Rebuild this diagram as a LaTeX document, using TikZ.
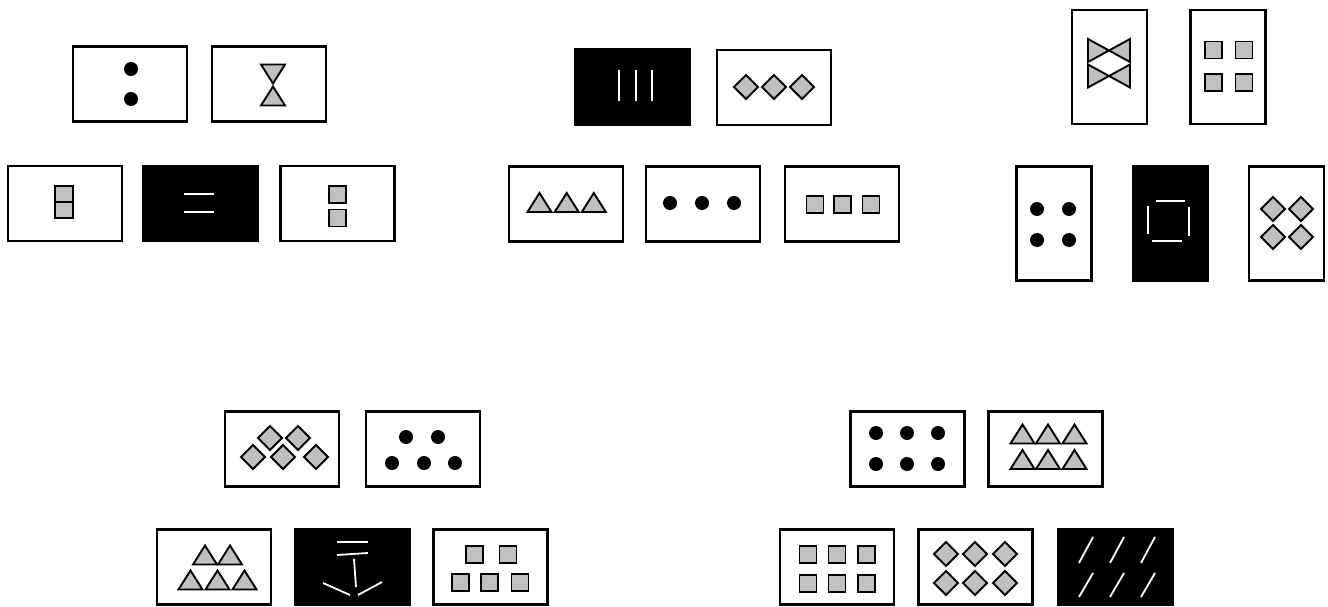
\documentclass[tikz,border=0pt]{standalone}
\definecolor{tilegray}{RGB}{192, 192, 192}
\usepackage{tikz}
\usepackage{xcolor}
\usetikzlibrary{positioning}

\tikzset{
  card/.style={draw=black, line width=2.2pt, fill=white, inner sep=0pt,
               minimum width=114pt, minimum height=75pt},
  darkcard/.style={card, fill=black},
  tallcard/.style={card, minimum width=75pt, minimum height=114pt},
  darktallcard/.style={tallcard, fill=black},
  piece/.style={draw=black, line width=1.9pt, fill=tilegray},
  whitestroke/.style={draw=white, line width=1.8pt},
}

% gray pieces, given by their centre
\newcommand{\piecesq}[2]{\draw[piece] (#1-8.5,#2-8.5) rectangle (#1+8.5,#2+8.5);}
\newcommand{\piecedia}[2]{\draw[piece] (#1,#2-12) -- (#1+12,#2) -- (#1,#2+12) -- (#1-12,#2) -- cycle;}
\newcommand{\pieceup}[2]{\draw[piece] (#1-12,#2+9.5) -- (#1+12,#2+9.5) -- (#1,#2-9.5) -- cycle;}
\newcommand{\piecedown}[2]{\draw[piece] (#1-12,#2-9.5) -- (#1+12,#2-9.5) -- (#1,#2+9.5) -- cycle;}
\newcommand{\piecebow}[2]{%
  \draw[piece] (#1-21,#2-11.5) -- (#1-21,#2+11.5) -- (#1,#2) -- cycle;
  \draw[piece] (#1+21,#2-11.5) -- (#1+21,#2+11.5) -- (#1,#2) -- cycle;}
\newcommand{\piecedot}[2]{\fill[black] (#1,#2) circle (7);}

\begin{document}
\begin{tikzpicture}[x=1pt, y=-1pt]
  \useasboundingbox (0,0) rectangle (1328,607);

  % Group 1: pairs
  \node[card] (dotpair) at (130,84) {};
  \node[card] (hourglass) at (269,84) {};
  \node[card] (sqstack) at (65,203.5) {};
  \node[darkcard] (twolines) at (200.5,203.5) {};
  \node[card] (sqpair) at (337.5,203.5) {};

  \piecedot{131}{69} \piecedot{131}{99}
  \piecedown{273}{74} \pieceup{273}{96}
  \draw[piece] (55,186) rectangle (73,202);
  \draw[piece] (55,202) rectangle (73,218);
  \draw[whitestroke] (184,194) -- (214,194);
  \draw[whitestroke] (184,212) -- (214,212);
  \piecesq{337.5}{194.5} \piecesq{337.5}{218}

  % Group 2: rows of three
  \node[darkcard] (threebars) at (632.5,87) {};
  \node[card] (diarow) at (774,87.5) {};
  \node[card] (trirow) at (566,204) {};
  \node[card] (dotrow) at (703,204) {};
  \node[card] (sqrow) at (842,204) {};

  \foreach \x in {619,636,652} {\draw[whitestroke] (\x,70) -- (\x,101);}
  \foreach \x in {746,774,802} {\piecedia{\x}{87}}
  \foreach \x in {539.5,566.7,593.8} {\pieceup{\x}{202.5}}
  \foreach \x in {670,702,734} {\piecedot{\x}{203}}
  \foreach \x in {815,842.5,871} {\piecesq{\x}{204.5}}

  % Group 3: fours, upright cards
  \node[tallcard] (bowties) at (1109.5,67) {};
  \node[tallcard] (sqfour) at (1228,67) {};
  \node[tallcard] (dotfour) at (1054,223.5) {};
  \node[darktallcard] (brokensq) at (1170.5,223.5) {};
  \node[tallcard] (diafour) at (1286.5,223.5) {};

  \piecebow{1109}{50.5} \piecebow{1109}{76}
  \foreach \x in {1213.5,1244} {\foreach \y in {50,82.5} {\piecesq{\x}{\y}}}
  \foreach \x in {1037,1069} {\foreach \y in {209,240} {\piecedot{\x}{\y}}}
  \draw[whitestroke] (1156,201) -- (1185,201);
  \draw[whitestroke] (1152,241) -- (1182,241);
  \draw[whitestroke] (1148,206) -- (1148,234);
  \draw[whitestroke] (1189,207) -- (1189,236);
  \foreach \x in {1273,1301} {\foreach \y in {209,237} {\piecedia{\x}{\y}}}

  % Group 4: fives
  \node[card] (diafive) at (282,449) {};
  \node[card] (dotfive) at (423,449) {};
  \node[card] (trifive) at (214,567) {};
  \node[darkcard] (anchor) at (352.5,567) {};
  \node[card] (sqfive) at (490.5,567) {};

  \foreach \x in {270,298} {\piecedia{\x}{438}}
  \foreach \x in {253,283,316} {\piecedia{\x}{457}}
  \foreach \x in {406,438} {\piecedot{\x}{437}}
  \foreach \x in {392,424,455} {\piecedot{\x}{463}}
  \foreach \x in {205,230} {\pieceup{\x}{555}}
  \foreach \x in {190.5,217.5,244.5} {\pieceup{\x}{580}}
  \draw[whitestroke] (337,542) -- (368,542);
  \draw[whitestroke] (337,555) -- (368,553);
  \draw[whitestroke] (354,559) -- (356,587);
  \draw[whitestroke] (323,583) -- (350,595);
  \draw[whitestroke] (358,595) -- (382,582);
  \foreach \x in {474.5,508} {\piecesq{\x}{554.5}}
  \foreach \x in {460.5,489.5,520} {\piecesq{\x}{582.5}}

  % Group 5: sixes
  \node[card] (dotsix) at (907.5,449) {};
  \node[card] (trisix) at (1045.5,449) {};
  \node[card] (sqsix) at (837,567) {};
  \node[card] (diasix) at (975.5,567) {};
  \node[darkcard] (slashes) at (1115.5,567) {};

  \foreach \x in {876,907,938} {\foreach \y in {433,464} {\piecedot{\x}{\y}}}
  \foreach \x in {1022.5,1048,1074.5} {\foreach \y in {434,459.5} {\pieceup{\x}{\y}}}
  \foreach \x in {808,837,866.5} {\foreach \y in {554.5,583.5} {\piecesq{\x}{\y}}}
  \foreach \x in {946,975,1005} {\foreach \y in {554,583} {\piecedia{\x}{\y}}}
  \foreach \x in {1079,1110,1141} {
    \draw[whitestroke] (\x,563) -- (\x+14,537);
    \draw[whitestroke] (\x,597) -- (\x+14,573);
  }
\end{tikzpicture}
\end{document}
